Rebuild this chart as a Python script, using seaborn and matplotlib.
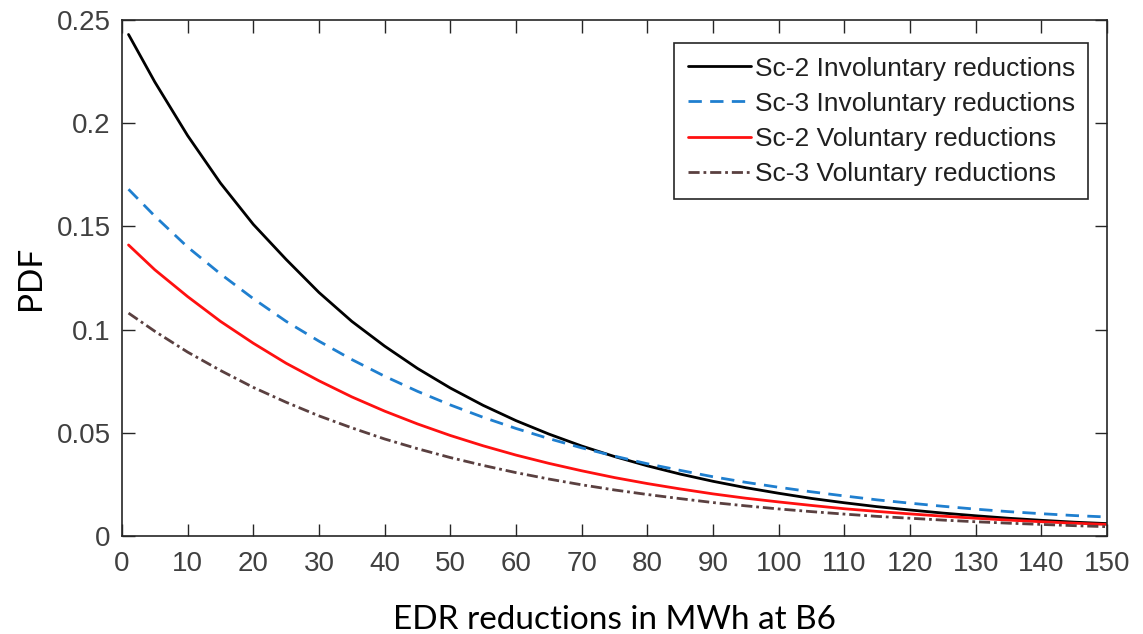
import matplotlib
matplotlib.use("Agg")
import matplotlib.pyplot as plt
from matplotlib import font_manager
import seaborn as sns
import pandas as pd

# ---- data ----
x_vals = [1, 5, 10, 15, 20, 25, 30, 35, 40, 45, 50, 55, 60, 65, 70, 75,
          80, 85, 90, 95, 100, 105, 110, 115, 120, 125, 130, 135, 140, 145, 150]

sc2_invol = [0.243, 0.220, 0.194, 0.171, 0.151, 0.134, 0.118, 0.104, 0.092, 0.0812,
             0.0717, 0.0633, 0.0559, 0.0494, 0.0436, 0.0385, 0.0340, 0.0300, 0.0265,
             0.0234, 0.0207, 0.0182, 0.0161, 0.0142, 0.0126, 0.0111, 0.0098, 0.0086,
             0.0076, 0.0067, 0.0060]
sc3_invol = [0.168, 0.155, 0.140, 0.127, 0.115, 0.104, 0.0944, 0.0855, 0.0774, 0.0701,
             0.0635, 0.0575, 0.0521, 0.0472, 0.0427, 0.0387, 0.0350, 0.0318, 0.0287,
             0.0260, 0.0236, 0.0214, 0.0194, 0.0175, 0.0159, 0.0144, 0.0130, 0.0118,
             0.0108, 0.0099, 0.0092]
sc2_vol = [0.141, 0.129, 0.116, 0.104, 0.0934, 0.0837, 0.0752, 0.0674, 0.0605, 0.0543,
           0.0487, 0.0437, 0.0392, 0.0352, 0.0316, 0.0283, 0.0254, 0.0228, 0.0204,
           0.0183, 0.0165, 0.0148, 0.0132, 0.0119, 0.0107, 0.0096, 0.0086, 0.0077,
           0.0069, 0.0062, 0.0056]
sc3_vol = [0.108, 0.0992, 0.0891, 0.0802, 0.0720, 0.0648, 0.0582, 0.0524, 0.0470, 0.0423,
           0.0380, 0.0342, 0.0307, 0.0276, 0.0248, 0.0223, 0.0201, 0.0181, 0.0162,
           0.0146, 0.0131, 0.0118, 0.0106, 0.0095, 0.0086, 0.0077, 0.0069, 0.0062,
           0.0056, 0.0050, 0.0045]

series_names = ["Sc-2 Involuntary reductions", "Sc-3 Involuntary reductions",
                "Sc-2 Voluntary reductions", "Sc-3 Voluntary reductions"]
x_ticks = list(range(0, 151, 10))
x_tick_labels = [str(t) for t in x_ticks]
y_ticks = [0, 0.05, 0.1, 0.15, 0.2, 0.25]
y_tick_labels = ["0", "0.05", "0.1", "0.15", "0.2", "0.25"]
x_label = "EDR reductions in MWh at B6"
y_label = "PDF"

# ---- styling ----
sns.set_style("ticks")


def have(name):
    try:
        font_manager.findfont(font_manager.FontProperties(family=name),
                              fallback_to_default=False)
        return True
    except Exception:
        return False


tick_font = "Liberation Sans Narrow" if have("Liberation Sans Narrow") else "Liberation Sans"
label_font = "Lato" if have("Lato") else "DejaVu Sans"
plt.rcParams["font.family"] = [tick_font, "DejaVu Sans"]

fig = plt.figure(figsize=(11.43, 6.34), dpi=100)
ax = fig.add_axes([0.1067, 0.1546, 0.8618, 0.8138])

df = pd.DataFrame({"x": x_vals, series_names[0]: sc2_invol, series_names[1]: sc3_invol,
                   series_names[2]: sc2_vol, series_names[3]: sc3_vol})

styles = [
    dict(color="black", linestyle="-"),
    dict(color="#1f7fcf", linestyle=(0, (4.8, 3.0))),
    dict(color="#ff1010", linestyle="-"),
    dict(color="#5a4040", linestyle=(0, (4.0, 1.4, 1.0, 1.4))),
]
for name, st in zip(series_names, styles):
    sns.lineplot(data=df, x="x", y=name, ax=ax, label=name, linewidth=2.0, **st)

ax.set_xlim(0, 150)
ax.set_ylim(0, 0.25)
ax.set_xticks(x_ticks)
ax.set_xticklabels(x_tick_labels)
ax.set_yticks(y_ticks)
ax.set_yticklabels(y_tick_labels)

edge = "#262626"
for sp in ax.spines.values():
    sp.set_visible(True)
    sp.set_color(edge)
    sp.set_linewidth(1.2)
ax.tick_params(direction="in", length=9, width=1, colors=edge, top=True, right=True,
               labelsize=20, labelcolor="#404040")
ax.tick_params(axis="x", pad=11)
ax.tick_params(axis="y", pad=8)

ax.set_xlabel(x_label, fontsize=24, family=[label_font, "DejaVu Sans"], color="black",
              labelpad=20)
ax.set_ylabel(y_label, fontsize=24, family=[label_font, "DejaVu Sans"], color="black",
              labelpad=8)

leg = ax.legend(loc="upper right", bbox_to_anchor=(0.989, 0.97), fontsize=19,
                frameon=True, fancybox=False, framealpha=1, edgecolor=edge,
                handlelength=2.4, handletextpad=0.15, borderpad=0.5,
                labelspacing=0.42, borderaxespad=0.3)
leg.get_frame().set_linewidth(1.2)
for t in leg.get_texts():
    t.set_color("#202020")

fig.savefig("out.png", dpi=100)
